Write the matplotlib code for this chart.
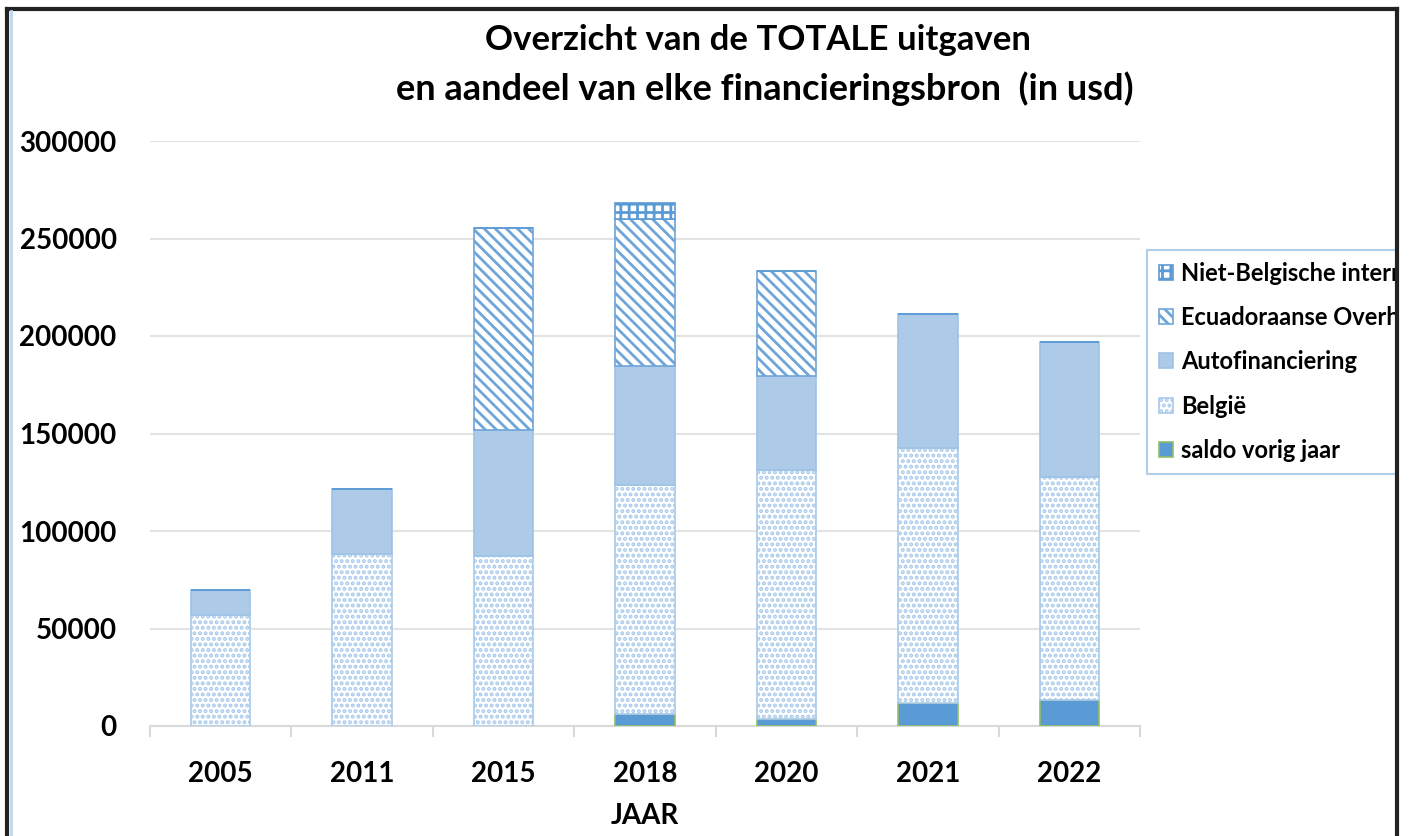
import numpy as np
import matplotlib
matplotlib.use("Agg")
import matplotlib.pyplot as plt
from matplotlib.patches import Rectangle
from matplotlib.lines import Line2D

plt.rcParams['font.family'] = ['Lato', 'DejaVu Sans']
plt.rcParams['font.weight'] = 'bold'
plt.rcParams['hatch.linewidth'] = 2.0

# data (usd)
jaren = ['2005', '2011', '2015', '2018', '2020', '2021', '2022']
saldo = [0, 0, 0, 6000, 3500, 11700, 13400]
belgie = [57000, 88000, 87000, 117700, 127900, 130700, 114100]
auto = [13000, 33500, 65000, 60900, 48100, 69100, 69500]
ecuador = [0, 0, 103600, 75400, 53700, 0, 0]
niet_belg = [0, 0, 0, 8200, 0, 0, 0]

series = [
    ('saldo vorig jaar', saldo, dict(facecolor='#5B9BD5', edgecolor='#8DBF6A', hatch=None)),
    ('België', belgie, dict(facecolor='white', edgecolor='#A9CAEA', hatch='...')),
    ('Autofinanciering', auto, dict(facecolor='#ADCBE9', edgecolor='#9DC3E6', hatch=None)),
    ('Ecuadoraanse Overheid', ecuador, dict(facecolor='white', edgecolor='#6FA5D9', hatch='\\\\\\')),
    ('Niet-Belgische internationale donoren', niet_belg,
     dict(facecolor='white', edgecolor='#5B9BD5', hatch='++')),
]

fig = plt.figure(figsize=(14.11, 8.36), dpi=100)
ax = fig.add_axes([150 / 1411, 1 - 726 / 836, 990 / 1411, 585 / 836])

x = np.arange(len(jaren))
bottom = np.zeros(len(jaren))
handles = []
for name, vals, st in series:
    vals = np.array(vals, dtype=float)
    b = ax.bar(x, vals, 0.42, bottom=bottom, linewidth=1.2, label=name, zorder=3, **st)
    handles.append(b)
    bottom += vals

ax.set_xlim(-0.5, 6.5)
ax.set_ylim(0, 300000)
ax.set_yticks(np.arange(0, 300001, 50000))
ax.grid(axis='y', color='#E3E3E3', linewidth=1.5, zorder=0)
for s in ['top', 'right', 'left']:
    ax.spines[s].set_visible(False)
ax.spines['bottom'].set_color('#D9D9D9')
ax.spines['bottom'].set_linewidth(1.5)

ax.set_xticks(x)
ax.set_xticklabels(jaren)
ax.set_xticks(np.arange(-0.5, 7, 1), minor=True)
ax.tick_params(axis='x', which='major', length=0, pad=25, labelsize=20)
ax.tick_params(axis='x', which='minor', length=8, width=1.5, color='#D9D9D9')
ax.tick_params(axis='y', length=0, pad=24, labelsize=20)
ax.set_xlabel('JAAR', fontsize=20, fontweight='bold', labelpad=12)

fig.text(758 / 1411, 1 - 40 / 836, 'Overzicht van de TOTALE uitgaven',
         ha='center', va='center', fontsize=25, fontweight='bold')
fig.text(765 / 1411, 1 - 89 / 836, 'en aandeel van elke financieringsbron  (in usd)',
         ha='center', va='center', fontsize=26, fontweight='bold')

leg = ax.legend(handles[::-1], [s[0] for s in series][::-1],
                loc='upper left', bbox_to_anchor=(1147 / 1411, 1 - 250 / 836),
                bbox_transform=fig.transFigure, fontsize=17, frameon=True,
                fancybox=False, edgecolor='#9DC3E6', handlelength=0.6,
                handleheight=0.6, handletextpad=0.35, labelspacing=0.9,
                borderpad=0.5, borderaxespad=0)
leg.get_frame().set_linewidth(1.5)

# screenshot frame, legend cut off at the right edge as in the source
fig.add_artist(Rectangle((1399 / 1411, 0), 12 / 1411, 1, transform=fig.transFigure,
                         facecolor='white', edgecolor='none', zorder=10))
fig.add_artist(Line2D([7 / 1411, 7 / 1411], [0, 1 - 9 / 836], transform=fig.transFigure,
                      color='#222222', linewidth=3, zorder=11))
fig.add_artist(Line2D([7 / 1411, 1397 / 1411], [1 - 9 / 836, 1 - 9 / 836],
                      transform=fig.transFigure, color='#222222', linewidth=3, zorder=11))
fig.add_artist(Line2D([1397 / 1411, 1397 / 1411], [0, 1 - 9 / 836], transform=fig.transFigure,
                      color='#222222', linewidth=3, zorder=11))
fig.add_artist(Line2D([11 / 1411, 11 / 1411], [0, 1 - 11 / 836], transform=fig.transFigure,
                      color='#BDD7EE', linewidth=2, zorder=11))

fig.savefig('out.png', dpi=100)
